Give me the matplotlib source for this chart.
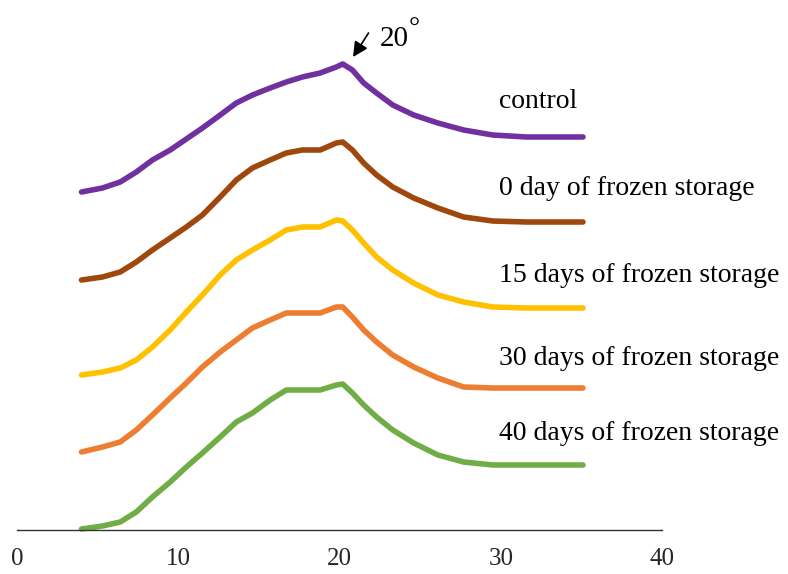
import matplotlib
matplotlib.use("Agg")
import matplotlib.pyplot as plt

# 2-theta positions (degrees)
two_theta = [4.0, 5.3, 6.4, 7.4, 8.4, 9.5, 10.5, 11.5, 12.6, 13.6,
             14.6, 15.7, 16.7, 17.7, 18.8, 19.8, 20.2, 20.8, 21.5, 22.3,
             23.3, 24.6, 26.1, 27.7, 29.5, 31.6, 33.4, 35.1]

# stacked intensities (arbitrary units, offsets included)
control = [338, 342, 348, 358, 370, 380, 391, 402, 415, 427,
           435, 442, 448, 453, 457, 463, 466, 460, 447, 437,
           425, 415, 407, 400, 395, 393, 393, 393]
day0 = [250, 253, 258, 268, 280, 292, 303, 315, 333, 350,
        362, 370, 377, 380, 380, 387, 388, 380, 367, 355,
        343, 332, 322, 313, 309, 308, 308, 308]
day15 = [155, 158, 162, 170, 183, 200, 218, 235, 255, 270,
         280, 290, 300, 303, 303, 310, 309, 300, 287, 273,
         260, 247, 235, 228, 223, 222, 222, 222]
day30 = [78, 83, 88, 100, 115, 132, 147, 163, 178, 190,
         202, 210, 217, 217, 217, 223, 223, 213, 200, 188,
         175, 163, 152, 143, 142, 142, 142, 142]
day40 = [1, 4, 8, 18, 33, 48, 63, 77, 93, 108,
         117, 130, 140, 140, 140, 145, 146, 137, 125, 113,
         100, 87, 75, 68, 65, 65, 65, 65]

series = [control, day0, day15, day30, day40]
labels = ["control", "0 day of frozen storage", "15 days of frozen storage",
          "30 days of frozen storage", "40 days of frozen storage"]
colors = ["#7030A0", "#9E480E", "#FFC000", "#ED7D31", "#70AD47"]
label_y = [422, 335, 248, 165, 90]

xticks = [0, 10, 20, 30, 40]

serif = ["Liberation Serif", "DejaVu Serif"]

fig = plt.figure(figsize=(7.88, 5.74), dpi=100)
ax = fig.add_axes([17 / 788, 44 / 574, 645 / 788, 530 / 574])

for vals, col in zip(series, colors):
    ax.plot(two_theta, vals, color=col, lw=4, solid_joinstyle="round",
            solid_capstyle="round", clip_on=False)

for lab, ly in zip(labels, label_y):
    ax.text(29.9, ly, lab, family=serif, fontsize=20, va="baseline",
            ha="left", color="black")

# peak annotation
ax.annotate("", xy=(20.84, 473), xytext=(21.8, 497),
            arrowprops=dict(arrowstyle="-|>,head_length=0.9,head_width=0.45",
                            color="black", lw=1.2, shrinkA=0, shrinkB=0),
            annotation_clip=False)
ax.text(22.5, 484, "20", family=serif, fontsize=21, va="baseline", ha="left")
ax.text(24.3, 494, "°", family=serif, fontsize=20, va="baseline", ha="left")

ax.set_xlim(0, 40)
ax.set_ylim(0, 530)
ax.set_xticks(xticks)
ax.set_xticklabels([str(t) for t in xticks], family=serif, fontsize=18,
                   color="#262626")
ax.tick_params(axis="x", length=0, pad=13)
ax.set_yticks([])
for side in ["top", "left", "right"]:
    ax.spines[side].set_visible(False)
ax.spines["bottom"].set_color("#333333")
ax.spines["bottom"].set_linewidth(1.0)
ax.patch.set_alpha(0)

fig.savefig("out.png", dpi=100)
